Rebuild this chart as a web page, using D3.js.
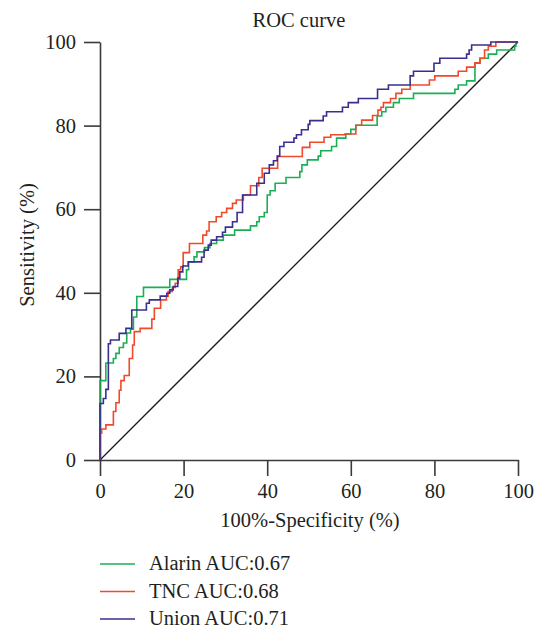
<!DOCTYPE html>
<html>
<head>
<meta charset="utf-8">
<script src="https://cdn.jsdelivr.net/npm/d3@7"></script>
<style>
  html, body { margin: 0; padding: 0; background: #fff; }
  svg { display: block; }
  text { font-family: "Liberation Serif", "DejaVu Serif", serif; fill: #231f20; }
</style>
</head>
<body>
<svg id="chart" width="540" height="629"></svg>
<script>
// ---------------- data ----------------
const title = "ROC curve";
const xLabel = "100%-Specificity (%)";
const yLabel = "Sensitivity (%)";
const tickValues = [0, 20, 40, 60, 80, 100];

const seriesNames = ["Alarin AUC:0.67", "TNC AUC:0.68", "Union AUC:0.71"];
const seriesColors = ["#1aaf54", "#f04a2c", "#3a2f8e"];

// step vertices: [100%-specificity, sensitivity] (vertical rise at x to new y)
const alarinPts = [[0,0],[0,19],[1.4,23.2],[3.2,24.3],[3.8,25.5],[4.6,26.9],[5.6,28],[6.4,30.4],[7.3,31.3],[8,34.2],[8.8,39.1],[10.4,41.3],[16.7,43.2],[20.7,45.5],[21.2,47.4],[22.5,48.6],[23.2,49.8],[25,50.8],[26.3,51.8],[27.9,52.6],[29.5,53.8],[32.2,55],[36,56],[37.5,57],[38.1,58.2],[39.3,59.2],[40,63.4],[40.7,64.4],[41.9,66.2],[44.5,67.6],[47.8,69],[48.3,70.6],[49.6,71.8],[52.2,72.7],[52.8,74],[55.4,75],[56.6,77],[58.8,78],[60,79.1],[61.2,80.1],[66.3,82.3],[67.4,83.3],[68.4,84.4],[70.2,85.5],[71.6,86.5],[75,87.7],[84.9,88.7],[85.7,89.7],[87.7,90.7],[89.7,94.9],[90.9,96.1],[92.9,97.1],[94.9,98.1],[99.2,99],[99.5,100],[100,100]];
const tncPts = [[0,0],[0,6.4],[0.4,7.4],[1.4,8.4],[3.2,11.6],[3.8,13.7],[4.6,16.7],[5,19],[5.8,20.2],[7,24.3],[7.8,27.5],[8.2,30.7],[9.6,31.5],[12.4,33.7],[13,36.3],[14.5,38.3],[15.9,39.2],[16.3,40.3],[17.3,41.3],[18,42.3],[18.7,45.5],[19.3,46.2],[19.9,49.6],[21.4,51.8],[24.6,53.8],[25.5,54.8],[26.1,57],[27.8,58.2],[29.1,59.2],[30.3,60.2],[31.7,61.4],[32.6,62.2],[34.3,63.4],[36,65.6],[38,67.6],[38.8,69.8],[42.5,72.6],[48.4,74.8],[50.2,76],[53.6,77.2],[55.2,77.8],[58.6,78],[61.2,80.1],[62.6,81.3],[65.2,82.4],[66.5,83.7],[67.2,84.4],[67.8,85.5],[69.5,86.5],[70.8,87.7],[72.2,88.7],[74.2,89.7],[78.8,90.9],[80.1,91.9],[85.7,93],[87.7,94],[89.7,95],[90.9,96.1],[92,98.1],[92.9,99],[94.7,100],[100,100]];
const unionPts = [[0,0],[0,13.5],[0.8,14.7],[1.4,16.9],[2,27.8],[2.5,28.7],[4.6,30.3],[6.2,31.5],[7.6,35.9],[11.1,37.5],[11.8,38.3],[14.4,39.2],[16,39.9],[16.7,40.7],[17.5,41.5],[18.6,43.5],[19.1,45],[19.8,46.4],[21.1,47.4],[24.3,48.5],[24.9,50.2],[25.9,51.4],[26.6,52.6],[27.9,53.4],[29.3,54.5],[30,55.7],[31.7,57],[32.8,59.2],[34.1,63.4],[37.5,66.2],[39.3,68.6],[40.5,70.6],[41.5,71.6],[42.4,72.7],[43,75],[44,76],[46.4,77],[47,77.8],[48.2,79],[49.8,80.3],[50.2,81.2],[53.4,82.3],[54.2,83.3],[58,84.4],[59.4,85.5],[61.8,86.5],[66.4,88.7],[69,89.7],[74.2,91.9],[75,93],[79.9,94.9],[81.3,96.1],[87.7,97.1],[88.3,98.1],[88.9,99.3],[93.5,100],[100,100]];
const referenceLine = [[0,0],[100,100]];

// ---------------- drawing ----------------
const svg = d3.select("#chart");
const x = d3.scaleLinear().domain([0, 100]).range([100, 518]);
const y = d3.scaleLinear().domain([0, 100]).range([460, 42]);
const FONT = 20.5;

// axes
const xAxis = svg.append("g").attr("transform", "translate(0,460)")
  .call(d3.axisBottom(x).tickValues(tickValues).tickSize(16).tickSizeOuter(0).tickPadding(7));
const yAxis = svg.append("g").attr("transform", "translate(100,0)")
  .call(d3.axisLeft(y).tickValues(tickValues).tickSize(16).tickSizeOuter(0).tickPadding(8));
[xAxis, yAxis].forEach(g => {
  g.selectAll("path.domain").attr("stroke", "#3a3a3a").attr("stroke-width", 1.6);
  g.selectAll(".tick line").attr("stroke", "#3a3a3a").attr("stroke-width", 1.6);
  g.selectAll(".tick text").attr("font-family", "Liberation Serif").attr("font-size", FONT).attr("fill", "#231f20");
});
xAxis.selectAll(".tick text").attr("dy", "0.74em");

// diagonal
const line = d3.line().x(d => x(d[0])).y(d => y(d[1]));
svg.append("path").datum(referenceLine).attr("d", line)
  .attr("fill", "none").attr("stroke", "#1a1a1a").attr("stroke-width", 1.3);

// curves
const stepLine = d3.line().x(d => x(d[0])).y(d => y(d[1])).curve(d3.curveStepAfter);
const allSeries = [alarinPts, tncPts, unionPts];
allSeries.forEach((pts, i) => {
  svg.append("path").datum(pts).attr("d", stepLine)
    .attr("fill", "none").attr("stroke", seriesColors[i]).attr("stroke-width", 1.6)
    .attr("stroke-linejoin", "miter");
});

// title and labels
svg.append("text").attr("x", 299).attr("y", 27).attr("text-anchor", "middle")
  .attr("font-size", FONT).text(title);
svg.append("text").attr("x", 310).attr("y", 527).attr("text-anchor", "middle")
  .attr("font-size", FONT).text(xLabel);
svg.append("text").attr("transform", "translate(34,245) rotate(-90)").attr("text-anchor", "middle")
  .attr("font-size", FONT).text(yLabel);

// legend
const legend = svg.append("g");
seriesNames.forEach((name, i) => {
  const cy = 564 + i * 27.5;
  legend.append("line").attr("x1", 100).attr("x2", 135).attr("y1", cy).attr("y2", cy)
    .attr("stroke", seriesColors[i]).attr("stroke-width", 1.6);
  legend.append("text").attr("x", 149).attr("y", cy + 6).attr("font-size", FONT).text(name);
});
</script>
</body>
</html>
